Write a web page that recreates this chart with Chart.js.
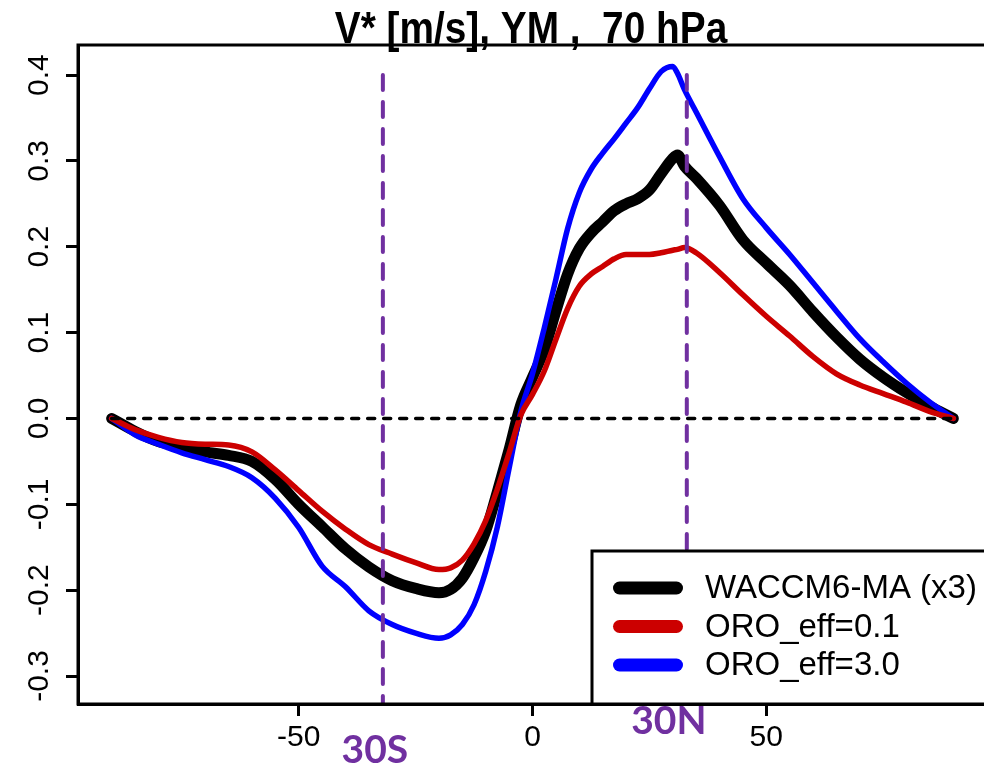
<!DOCTYPE html>
<html><head><meta charset="utf-8">
<script src="https://cdn.jsdelivr.net/npm/chart.js@4"></script>
<style>html,body{margin:0;padding:0;overflow:hidden;background:#fff}
#wrap{position:relative;width:992px;height:767px}</style>
</head><body><div id="wrap"><canvas id="c" width="992" height="767"></canvas></div>
<script>
const chartTitle = "V* [m/s], YM ,  70 hPa";
const lat = [-90,-85,-80,-75,-70,-65,-60,-55,-50,-45,-40,-35,-30,-25,-20,-17.5,-15,-12.5,-10,-7.5,-5,-2.5,0,2.5,5,7.5,10,12.5,15,17.5,20,22.5,25,27.5,30,31,32.5,35,40,45,50,55,60,65,70,75,80,85,90];
const waccm = [0,-0.015,-0.027,-0.033,-0.039,-0.043,-0.050,-0.071,-0.100,-0.126,-0.152,-0.173,-0.189,-0.198,-0.203,-0.199,-0.186,-0.162,-0.131,-0.085,-0.036,0.016,0.048,0.080,0.125,0.168,0.198,0.216,0.229,0.242,0.250,0.256,0.266,0.285,0.303,0.307,0.294,0.280,0.248,0.208,0.181,0.155,0.124,0.095,0.069,0.048,0.030,0.014,0];
const oro01 = [0,-0.013,-0.022,-0.028,-0.030,-0.031,-0.039,-0.060,-0.084,-0.108,-0.129,-0.147,-0.158,-0.168,-0.176,-0.174,-0.165,-0.146,-0.119,-0.082,-0.040,0.004,0.028,0.055,0.092,0.128,0.154,0.168,0.177,0.186,0.191,0.191,0.191,0.193,0.196,0.197,0.199,0.193,0.170,0.144,0.119,0.096,0.072,0.052,0.039,0.029,0.019,0.008,0];
const oro30 = [0,-0.019,-0.030,-0.040,-0.048,-0.056,-0.069,-0.093,-0.127,-0.172,-0.196,-0.224,-0.240,-0.250,-0.256,-0.252,-0.240,-0.217,-0.178,-0.126,-0.058,0.008,0.052,0.105,0.162,0.221,0.263,0.290,0.309,0.326,0.344,0.362,0.384,0.404,0.410,0.402,0.383,0.357,0.305,0.256,0.222,0.191,0.158,0.125,0.093,0.066,0.041,0.019,0];
const seriesNames = ["WACCM6-MA (x3)", "ORO_eff=0.1", "ORO_eff=3.0"];
const xTicks = [-50, 0, 50];
const xTickLabels = ["-50", "0", "50"];
const yTicks = [-0.3, -0.2, -0.1, 0.0, 0.1, 0.2, 0.3, 0.4];
const yTickLabels = ["-0.3", "-0.2", "-0.1", "0.0", "0.1", "0.2", "0.3", "0.4"];
const refLats = [-32, 33];
const refLabels = ["30S", "30N"];
const zeroLine = [{x:-90,y:0},{x:90,y:0}];

const xMin = -97.2, xMax = 97.2, yMin = -0.3326, yMax = 0.435;
const toPts = arr => arr.map((v,i)=>({x:lat[i], y:v}));
const PURPLE = '#7030A0';

const datasets = [
  ...refLats.map(l => ({label:'ref', data:[{x:l,y:0.4},{x:l,y:yMin}], borderColor:PURPLE, borderWidth:4, borderDash:[15,12], pointRadius:0, order:0})),
  {label:'zero', data:zeroLine, borderColor:'#000', borderWidth:3.5, borderDash:[7,9], pointRadius:0, order:1},
  {label:seriesNames[1], data:toPts(oro01), borderColor:'#CC0000', borderWidth:5.5, pointRadius:0, cubicInterpolationMode:'monotone', order:2},
  {label:seriesNames[2], data:toPts(oro30), borderColor:'#0000FF', borderWidth:5.5, pointRadius:0, cubicInterpolationMode:'monotone', order:3},
  {label:seriesNames[0], data:toPts(waccm), borderColor:'#000000', borderWidth:11, pointRadius:0, cubicInterpolationMode:'monotone', order:4},
];

const deco = {
  id:'deco',
  afterDraw(chart){
    const ctx = chart.ctx, a = chart.chartArea;
    const ys = chart.scales.y, xs = chart.scales.x;
    ctx.save();
    ctx.strokeStyle = '#000'; ctx.lineWidth = 3;
    ctx.strokeRect(a.left, a.top, a.right - a.left, a.bottom - a.top);
    ctx.fillStyle = '#000';
    ctx.font = '30px "Liberation Sans", Arial, sans-serif';
    ys.ticks.forEach((t,i)=>{
      const py = ys.getPixelForValue(t.value);
      ctx.save(); ctx.translate(40, py); ctx.rotate(-Math.PI/2);
      ctx.textAlign = 'center'; ctx.textBaseline = 'middle';
      ctx.fillText(yTickLabels[i], 0, 0); ctx.restore();
    });
    ctx.save();
    ctx.translate(531, 43);
    ctx.scale(0.97, 1.1);
    ctx.font = 'bold 40px "Liberation Sans", Arial, sans-serif';
    ctx.textAlign = 'center'; ctx.textBaseline = 'alphabetic';
    ctx.fillText(chartTitle, 0, 0);
    ctx.restore();
    const lx = 592, ly = 551;
    ctx.fillStyle = '#fff';
    ctx.fillRect(lx, ly, 420, a.bottom - ly);
    ctx.strokeStyle = '#000'; ctx.lineWidth = 3;
    ctx.strokeRect(lx, ly, 420, a.bottom - ly);
    ctx.font = '33px "Liberation Sans", Arial, sans-serif';
    ctx.textAlign = 'left'; ctx.textBaseline = 'middle';
    seriesNames.forEach((name, i) => {
      const ds = chart.data.datasets.find(d => d.label === name);
      const yy = 588 + i*38.5;
      ctx.strokeStyle = ds.borderColor; ctx.lineWidth = 13; ctx.lineCap = 'round';
      ctx.beginPath(); ctx.moveTo(619.5, yy); ctx.lineTo(676.5, yy); ctx.stroke();
      ctx.fillStyle = '#000';
      ctx.fillText(name, 705, yy + 1);
    });
    ctx.fillStyle = PURPLE;
    ctx.font = 'bold 39px Lato, "Open Sans", sans-serif';
    ctx.textAlign = 'center'; ctx.textBaseline = 'middle';
    ctx.fillText(refLabels[0], xs.getPixelForValue(refLats[0]) - 8, 750);
    ctx.fillText(refLabels[1], xs.getPixelForValue(refLats[1]) - 18, 721);
    ctx.restore();
  }
};

new Chart(document.getElementById('c'), {
  type:'line',
  data:{datasets},
  options:{
    animation:false, responsive:false, devicePixelRatio:1,
    layout:{padding:{left:0, top:45, right:5, bottom:0}},
    elements:{line:{borderCapStyle:'round', borderJoinStyle:'round', tension:0}},
    plugins:{legend:{display:false}, title:{display:false}, tooltip:{enabled:false}},
    scales:{
      x:{type:'linear', min:xMin, max:xMax,
         afterBuildTicks: s => { s.ticks = xTicks.map(v => ({value:v})); },
         afterFit: s => { s.height = 63; },
         grid:{drawOnChartArea:false, drawTicks:true, tickLength:12, tickWidth:3, tickColor:'#000'},
         border:{display:true, width:3, color:'#000'},
         ticks:{font:{family:'"Liberation Sans", Arial, sans-serif', size:30}, color:'#000', padding:4, maxRotation:0, minRotation:0, autoSkip:false,
                callback:(v,i)=>xTickLabels[i]}},
      y:{type:'linear', min:yMin, max:yMax,
         afterBuildTicks: s => { s.ticks = yTicks.map(v => ({value:v})); },
         afterFit: s => { s.width = 78; },
         grid:{drawOnChartArea:false, drawTicks:true, tickLength:12, tickWidth:3, tickColor:'#000'},
         border:{display:true, width:3, color:'#000'},
         ticks:{display:false}}
    }
  },
  plugins:[deco]
});
</script></body></html>
